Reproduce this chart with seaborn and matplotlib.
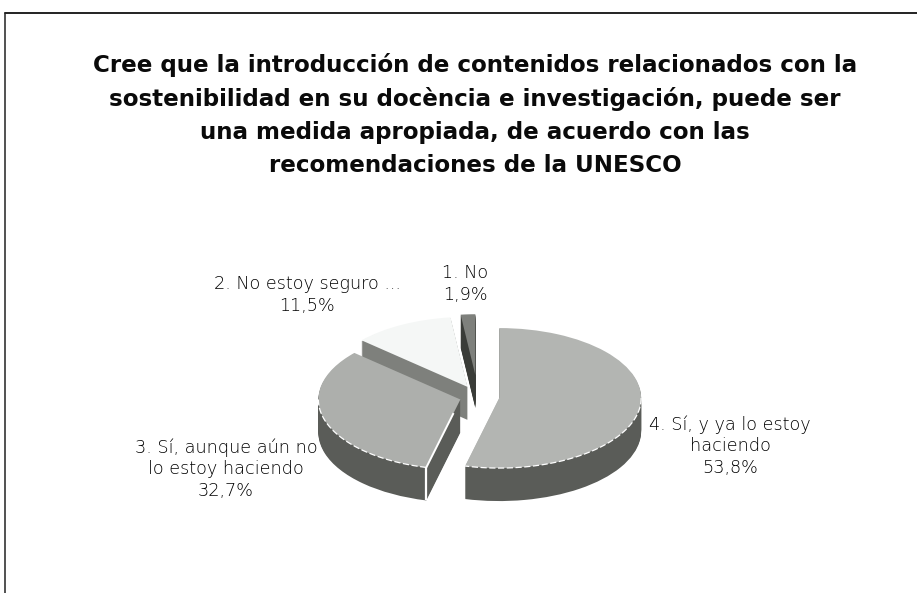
import numpy as np
import matplotlib
matplotlib.use("Agg")
import matplotlib.pyplot as plt
from matplotlib.lines import Line2D
import seaborn as sns

sns.set_theme(style="white")
plt.rcParams['font.family'] = ['DejaVu Sans']

W, H = 917, 593
title_lines = ["Cree que la introducción de contenidos relacionados con la",
               "sostenibilidad en su docència e investigación, puede ser",
               "una medida apropiada, de acuerdo con las",
               "recomendaciones de la UNESCO"]
categories = ["4. Sí, y ya lo estoy\nhaciendo", "3. Sí, aunque aún no\nlo estoy haciendo",
              "2. No estoy seguro ...", "1. No"]
values = [53.8, 32.7, 11.5, 1.9]
pct_labels = ["53,8%", "32,7%", "11,5%", "1,9%"]

top_colors = ["#b3b5b2", "#adafac", "#f5f7f6", "#7e807c"]
side_colors = ["#5a5c58", "#5a5c58", "#7e807c", "#3a3c38"]
label_pos = [(730, 446), (226, 469), (307, 295), (465, 284)]
radii = [1, 1, 1, 0.87]
explodes = [0.15, 0.13, 0.16, 0.31]
CX, CY, RX, RY, DEPTH = 478, 396.8, 142, 70, 33

fig = plt.figure(figsize=(W / 100, H / 100), dpi=100, facecolor="white")
ax = fig.add_axes([0, 0, 1, 1])


def draw_slice(i, yshift, colors, **wp):
    cols = ["none"] * len(values)
    cols[i] = colors[i]
    wedges, _ = ax.pie(values, explode=explodes, colors=cols,
                       startangle=90, counterclock=False, radius=radii[i],
                       center=(0, yshift), wedgeprops=wp)
    for j, w in enumerate(wedges):
        if j != i:
            w.set_visible(False)
    return wedges[i]


# back to front: smallest slice first
for i in [3, 2, 0, 1]:
    for d in range(DEPTH, 0, -1):
        draw_slice(i, -d / RY, side_colors, linewidth=0)
    draw_slice(i, 0, top_colors, linewidth=0)

ax.set_aspect("auto")
ax.set_xlim(-CX / RX, (W - CX) / RX)
ax.set_ylim(-(H - CY) / RY, CY / RY)
ax.axis("off")

# white dashed rim on the front of the two large slices, and the seam of slice 3
total = sum(values)
bounds = 2 * np.pi * np.cumsum([0] + values) / total
mids = (bounds[:-1] + bounds[1:]) / 2
for i, (a0, a1) in enumerate([(np.pi / 2, bounds[1]), (bounds[1], 3 * np.pi / 2)]):
    t = np.linspace(a0, a1, 60)
    ax.plot(explodes[i] * np.sin(mids[i]) + np.sin(t),
            explodes[i] * np.cos(mids[i]) + np.cos(t),
            color="white", lw=0.9, ls=(0, (5, 2)))
ox, oy = explodes[1] * np.sin(mids[1]), explodes[1] * np.cos(mids[1])
x0, y0 = ox + np.sin(bounds[1]), oy + np.cos(bounds[1])
ax.plot([x0, x0], [y0, y0 - DEPTH / RY], color="white", lw=1.6, solid_capstyle="butt")
ax.plot([ox + 0.2 * (x0 - ox), x0], [oy + 0.2 * (y0 - oy), y0],
        color="white", lw=1.4, solid_capstyle="butt")


def fx(x):
    return x / W


def fy(y):
    return 1 - y / H


fig.add_artist(Line2D([fx(5), fx(W)], [fy(13), fy(13)], color="#111111", lw=1.3))
fig.add_artist(Line2D([fx(5), fx(5)], [fy(13), fy(H)], color="#222222", lw=1.1))

for line, y in zip(title_lines, [65, 99, 132, 165]):
    fig.text(fx(475), fy(y), line, ha="center", va="center", fontsize=16.6,
             fontweight="bold", color="#0a0a0a")

for cat, pct, (x, y) in zip(categories, pct_labels, label_pos):
    fig.text(fx(x), fy(y), cat + "\n" + pct, ha="center", va="center", fontsize=12.7,
             color="#000000", linespacing=1.25, fontweight="light")

fig.savefig("out.png", dpi=100, facecolor="white")
